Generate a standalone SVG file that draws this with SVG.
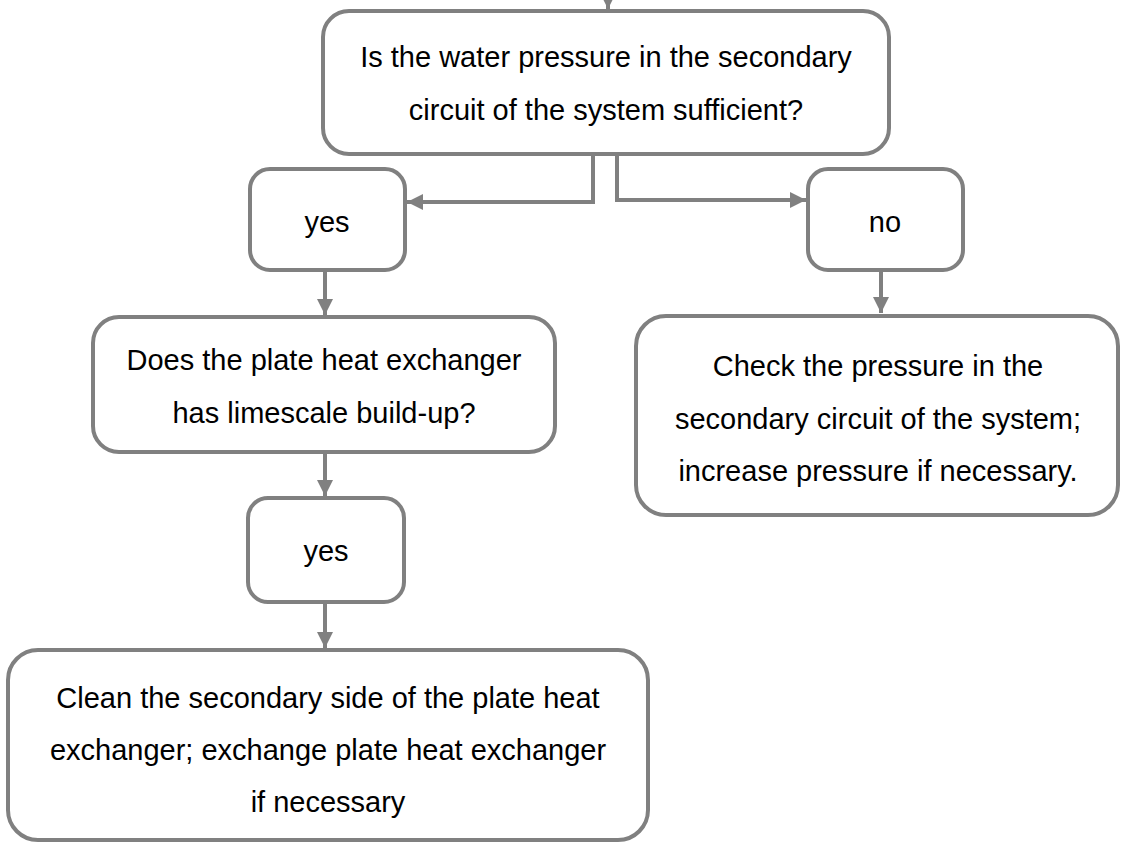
<svg xmlns="http://www.w3.org/2000/svg" width="1121" height="843" viewBox="0 0 1121 843">
<defs>
<style>
.box{fill:#fff;stroke:#808080;stroke-width:4}
.t{font-family:"Liberation Sans",Arial,sans-serif;font-size:29px;fill:#000;text-anchor:middle}
.c{fill:none;stroke:#808080;stroke-width:4}
</style>
<marker id="ah" viewBox="0 0 10 10" refX="10" refY="5" markerWidth="4" markerHeight="4" markerUnits="strokeWidth" orient="auto"><path d="M0,0 L10,5 L0,10 z" fill="#808080"/></marker>
</defs>
<rect width="1121" height="843" fill="#fff"/>
<g id="connectors">
<path class="c" d="M608,0 L608,9" marker-end="url(#ah)"/>
<path class="c" d="M593,154 L593,202 L407,202" marker-end="url(#ah)"/>
<path class="c" d="M617,154 L617,200 L806,200" marker-end="url(#ah)"/>
<path class="c" d="M325,270 L325,315" marker-end="url(#ah)"/>
<path class="c" d="M881,270 L881,313" marker-end="url(#ah)"/>
<path class="c" d="M325,452 L325,496" marker-end="url(#ah)"/>
<path class="c" d="M325,602 L325,648" marker-end="url(#ah)"/>
</g>
<g id="n1"><rect class="box" x="323" y="11" width="566" height="143" rx="26"/>
<text class="t" x="606" y="67">Is the water pressure in the secondary</text>
<text class="t" x="606" y="120">circuit of the system sufficient?</text></g>
<g id="n2"><rect class="box" x="250" y="169" width="155" height="101" rx="20"/>
<text class="t" x="327" y="232">yes</text></g>
<g id="n3"><rect class="box" x="808" y="169" width="155" height="101" rx="20"/>
<text class="t" x="885" y="232">no</text></g>
<g id="n4"><rect class="box" x="93" y="317" width="462" height="135" rx="26"/>
<text class="t" x="324" y="370">Does the plate heat exchanger</text>
<text class="t" x="324" y="423">has limescale build-up?</text></g>
<g id="n5"><rect class="box" x="636" y="316" width="482" height="199" rx="30"/>
<text class="t" x="878" y="376">Check the pressure in the</text>
<text class="t" x="878" y="429">secondary circuit of the system;</text>
<text class="t" x="878" y="481">increase pressure if necessary.</text></g>
<g id="n6"><rect class="box" x="248" y="498" width="156" height="104" rx="20"/>
<text class="t" x="326" y="561">yes</text></g>
<g id="n7"><rect class="box" x="8" y="650" width="640" height="190" rx="30"/>
<text class="t" x="328" y="708">Clean the secondary side of the plate heat</text>
<text class="t" x="328" y="760">exchanger; exchange plate heat exchanger</text>
<text class="t" x="328" y="812">if necessary</text></g>
</svg>
